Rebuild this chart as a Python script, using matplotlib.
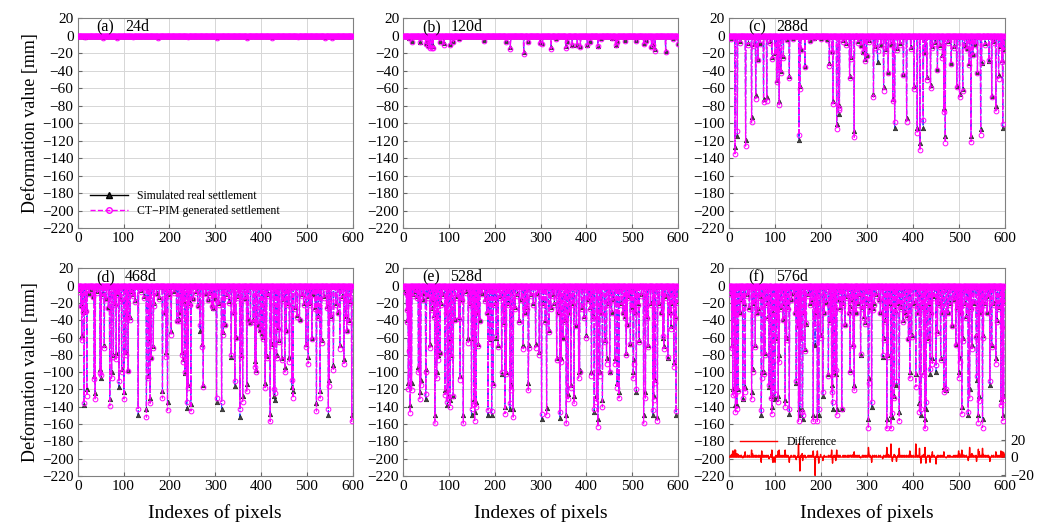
import numpy as np
import matplotlib
matplotlib.use("Agg")
import matplotlib.pyplot as plt
from matplotlib.lines import Line2D

plt.rcParams["font.family"] = ["Liberation Serif", "DejaVu Serif"]

N_PIXELS = 600
PANEL_TAGS = ["(a)", "(b)", "(c)", "(d)", "(e)", "(f)"]
DAYS = ["24d", "120d", "288d", "468d", "528d", "576d"]

# (pixel index, simulated real settlement, CT-PIM generated settlement); other pixels sit at 0
SPIKES_A = [(15, -1, -1), (55, -1, -2), (85, -1, -2), (120, -0.5, -1), (175, -1, -2),
            (240, -0.5, -1), (305, -1, -2), (370, -1, -2), (425, -1, -2), (480, -0.5, -1),
            (540, -1, -2), (555, -1, -2)]

SPIKES_B = [(13, -3, -3), (18, -6, -7), (36, -7, -7), (49, -8, -9), (52, -5, -6), (55, -11, -12),
            (58, -12, -14), (62, -12, -14), (65, -12, -14), (80, -6, -7), (89, -8, -10),
            (103, -9, -10), (109, -6, -7), (122, -3, -4), (176, -5, -6), (225, -6, -7),
            (234, -13, -15), (263, -18, -21), (273, -6, -7), (298, -7, -8), (304, -8, -9),
            (323, -13, -15), (333, -3, -4), (355, -12, -14), (357, -6, -7), (369, -10, -11),
            (380, -10, -11), (387, -12, -13), (402, -10, -11), (407, -6, -7), (425, -12, -12),
            (431, -3, -4), (455, -3, -3), (464, -10, -11), (467, -6, -7), (484, -5, -6),
            (509, -5, -6), (525, -8, -9), (531, -5, -6), (542, -12, -13), (545, -10, -11),
            (550, -15, -17), (573, -17, -19), (589, -3, -4), (599, -8, -9)]

SPIKES_C = [(5, -3, -4), (13, -127, -135), (18, -115, -109), (24, -6, -8), (36, -119, -126),
            (42, -8, -10), (49, -93, -99), (55, -9, -12), (58, -68, -72), (63, -26, -28),
            (68, -8, -9), (75, -72, -76), (82, -70, -74), (88, -6, -8), (93, -24, -26),
            (100, -20, -22), (104, -50, -53), (106, -35, -38), (109, -75, -79), (113, -40, -42),
            (118, -23, -25), (125, -4, -5), (131, -46, -48), (140, -3, -4), (152, -119, -113),
            (154, -57, -61), (156, -15, -16), (165, -35, -36), (175, -5, -6), (185, -2, -3),
            (200, -3, -4), (212, -4, -5), (218, -31, -34), (224, -17, -18), (226, -74, -78),
            (234, -101, -106), (238, -89, -85), (240, -79, -82), (248, -5, -7), (255, -8, -10),
            (262, -46, -48), (266, -24, -26), (272, -109, -116), (280, -6, -8), (287, -10, -12),
            (292, -19, -18), (295, -27, -29), (299, -22, -23), (305, -5, -7), (314, -66, -70),
            (318, -12, -14), (323, -30, -17), (330, -10, -11), (336, -58, -63), (341, -15, -17),
            (346, -41, -42), (351, -9, -11), (356, -72, -75), (360, -105, -99), (366, -14, -16),
            (372, -8, -10), (379, -44, -45), (386, -94, -99), (395, -13, -15), (402, -57, -61),
            (409, -105, -111), (415, -123, -131), (422, -105, -96), (426, -18, -20),
            (430, -47, -50), (438, -56, -60), (442, -12, -14), (447, -7, -9), (453, -38, -39),
            (458, -11, -13), (464, -22, -25), (467, -83, -87), (470, -115, -122), (476, -6, -8),
            (483, -31, -32), (490, -12, -14), (495, -57, -59), (501, -66, -70), (508, -61, -63),
            (512, -11, -12), (517, -14, -15), (522, -31, -33), (526, -115, -121), (530, -21, -22),
            (535, -9, -11), (540, -41, -42), (547, -106, -113), (549, -31, -30), (556, -8, -10),
            (565, -29, -28), (571, -69, -70), (575, -6, -8), (580, -80, -86), (586, -45, -49),
            (590, -12, -14), (593, -28, -30), (595, -105, -101), (598, -15, -16)]

SPIKES_D = [(3, -5, -7), (7, -22, -24), (9, -57, -63), (11, -30, -31), (14, -138, -136),
            (18, -28, -29), (20, -120, -127), (25, -8, -10), (30, -4, -5), (34, -12, -13),
            (36, -104, -108), (38, -124, -131), (43, -6, -8), (49, -96, -101), (51, -107, -103),
            (55, -10, -12), (58, -69, -72), (62, -14, -16), (67, -25, -26), (70, -131, -139),
            (74, -100, -107), (78, -80, -82), (81, -20, -22), (84, -78, -85), (87, -9, -11),
            (90, -117, -110), (93, -16, -18), (96, -96, -100), (101, -123, -131), (105, -77, -80),
            (108, -35, -39), (110, -98, -99), (114, -36, -40), (118, -6, -8), (121, -10, -12),
            (125, -17, -19), (132, -150, -142), (138, -5, -7), (144, -12, -14), (150, -143, -152),
            (154, -105, -107), (156, -60, -62), (158, -130, -136), (160, -82, -84), (165, -70, -72),
            (167, -20, -23), (172, -8, -10), (178, -13, -15), (185, -122, -130), (190, -30, -32),
            (193, -77, -82), (196, -134, -144), (200, -10, -12), (204, -53, -57), (210, -6, -8),
            (216, -40, -41), (220, -38, -41), (224, -30, -32), (227, -77, -80), (229, -85, -88),
            (232, -18, -20), (234, -101, -100), (238, -141, -134), (241, -115, -118),
            (244, -20, -22), (247, -137, -145), (252, -14, -16), (258, -6, -8), (262, -22, -24),
            (267, -53, -46), (272, -68, -71), (274, -115, -117), (280, -8, -10), (285, -15, -17),
            (289, -9, -11), (293, -22, -24), (296, -26, -26), (300, -14, -15), (303, -134, -130),
            (308, -20, -22), (314, -142, -134), (318, -54, -57), (321, -44, -46), (326, -10, -12),
            (330, -18, -20), (335, -82, -80), (340, -30, -32), (343, -116, -110), (345, -59, -61),
            (350, -12, -14), (354, -152, -142), (356, -80, -82), (360, -127, -134), (365, -14, -16),
            (369, -114, -122), (372, -39, -40), (377, -42, -43), (383, -40, -42), (387, -87, -94),
            (389, -97, -100), (393, -45, -46), (398, -51, -51), (402, -55, -57), (405, -59, -62),
            (409, -112, -118), (412, -81, -84), (416, -10, -12), (420, -148, -157), (423, -67, -70),
            (428, -127, -120), (430, -132, -124), (434, -80, -84), (437, -48, -50), (440, -63, -65),
            (445, -84, -86), (448, -16, -18), (452, -94, -100), (455, -51, -53), (459, -20, -22),
            (462, -83, -88), (467, -117, -109), (470, -122, -130), (475, -25, -27), (479, -34, -36),
            (484, -38, -40), (489, -10, -12), (493, -20, -22), (498, -68, -71), (503, -82, -90),
            (507, -20, -22), (511, -60, -62), (514, -10, -11), (518, -25, -27), (521, -136, -145),
            (525, -35, -37), (529, -122, -130), (532, -63, -66), (537, -12, -14), (543, -24, -26),
            (547, -150, -142), (549, -109, -116), (553, -35, -37), (558, -92, -98), (563, -20, -22),
            (567, -30, -32), (572, -69, -73), (576, -12, -14), (581, -85, -90), (585, -35, -37),
            (587, -51, -53), (591, -40, -42), (595, -18, -20), (598, -149, -157)]

SPIKES_E = [(2, -5, -6), (6, -7, -8), (7, -26, -28), (9, -40, -42), (11, -113, -119),
            (13, -72, -75), (15, -138, -147), (18, -113, -121), (22, -10, -12), (26, -6, -8),
            (30, -12, -14), (33, -94, -100), (36, -123, -131), (38, -109, -115), (42, -15, -17),
            (46, -8, -10), (49, -131, -125), (50, -96, -100), (54, -12, -14), (58, -68, -72),
            (62, -26, -28), (65, -15, -17), (67, -34, -36), (69, -150, -159), (73, -100, -107),
            (76, -80, -86), (80, -77, -78), (82, -20, -22), (86, -10, -12), (91, -121, -126),
            (94, -30, -32), (96, -138, -134), (98, -127, -131), (102, -132, -140), (103, -61, -63),
            (105, -80, -83), (109, -127, -127), (113, -38, -40), (118, -12, -14), (121, -36, -38),
            (124, -104, -109), (128, -15, -17), (131, -150, -159), (136, -6, -8), (142, -61, -66),
            (146, -20, -22), (149, -150, -142), (152, -60, -62), (154, -131, -137),
            (156, -146, -156), (159, -134, -140), (162, -30, -32), (164, -67, -70), (167, -40, -41),
            (172, -8, -10), (178, -16, -18), (182, -30, -32), (185, -150, -144), (189, -62, -65),
            (193, -150, -145), (196, -113, -115), (200, -20, -22), (203, -60, -58), (207, -69, -71),
            (211, -12, -14), (215, -102, -100), (219, -42, -44), (222, -140, -148),
            (225, -100, -102), (229, -20, -22), (233, -142, -136), (236, -115, -121),
            (240, -143, -152), (244, -25, -27), (249, -10, -12), (253, -40, -42), (258, -15, -17),
            (262, -69, -73), (266, -30, -32), (270, -25, -27), (273, -113, -121), (274, -69, -72),
            (279, -10, -12), (284, -20, -22), (289, -68, -72), (293, -8, -10), (297, -77, -80),
            (302, -154, -148), (306, -20, -22), (310, -40, -42), (313, -141, -150), (318, -51, -54),
            (322, -25, -27), (326, -10, -12), (330, -20, -22), (335, -84, -86), (339, -30, -32),
            (342, -153, -146), (345, -84, -88), (349, -61, -60), (353, -40, -42), (356, -150, -159),
            (360, -125, -131), (363, -30, -32), (366, -115, -118), (370, -20, -22),
            (373, -128, -136), (378, -45, -47), (383, -100, -107), (385, -98, -100), (390, -25, -27),
            (395, -35, -37), (400, -57, -60), (404, -15, -17), (408, -25, -27), (411, -100, -105),
            (414, -35, -37), (417, -146, -142), (422, -127, -134), (425, -154, -163),
            (429, -100, -104), (432, -30, -32), (435, -132, -140), (440, -63, -65), (444, -84, -90),
            (448, -20, -22), (451, -100, -100), (455, -30, -32), (458, -15, -17), (462, -84, -90),
            (467, -113, -118), (471, -123, -130), (476, -20, -22), (480, -30, -32), (484, -35, -37),
            (487, -78, -80), (489, -44, -46), (493, -12, -14), (496, -67, -68), (499, -25, -27),
            (502, -100, -107), (503, -86, -90), (506, -30, -32), (509, -123, -119), (512, -20, -22),
            (515, -63, -65), (520, -10, -12), (525, -150, -159), (529, -123, -130), (532, -35, -37),
            (535, -69, -71), (540, -20, -22), (545, -150, -144), (547, -127, -132),
            (550, -109, -112), (555, -152, -156), (559, -20, -22), (564, -30, -32), (567, -61, -58),
            (569, -70, -73), (573, -12, -14), (578, -84, -82), (582, -30, -32), (585, -47, -50),
            (588, -20, -22), (591, -88, -94), (594, -35, -37), (596, -149, -145), (599, -18, -20)]

SPIKES_F = [(3, -8, -10), (6, -69, -72), (8, -119, -126), (10, -30, -32), (12, -117, -125),
            (14, -138, -146), (17, -138, -142), (20, -119, -122), (24, -30, -32), (27, -15, -17),
            (30, -131, -130), (33, -20, -22), (35, -117, -123), (40, -10, -12), (44, -25, -27),
            (49, -123, -131), (51, -96, -100), (54, -20, -22), (57, -69, -71), (60, -30, -32),
            (64, -26, -28), (67, -12, -14), (70, -150, -144), (71, -100, -107), (75, -100, -102),
            (78, -78, -80), (82, -20, -22), (85, -35, -37), (87, -117, -115), (91, -127, -130),
            (93, -140, -148), (95, -32, -26), (96, -128, -122), (100, -131, -125), (102, -61, -63),
            (105, -40, -42), (107, -127, -134), (109, -80, -88), (113, -25, -27), (117, -38, -40),
            (120, -20, -22), (122, -132, -140), (125, -61, -63), (128, -25, -27), (131, -148, -142),
            (135, -15, -17), (140, -8, -10), (143, -30, -32), (146, -113, -110), (149, -46, -47),
            (151, -142, -157), (154, -150, -134), (156, -59, -61), (159, -142, -146),
            (160, -154, -150), (163, -30, -32), (165, -73, -75), (167, -44, -43), (172, -10, -12),
            (176, -20, -22), (180, -15, -17), (183, -150, -157), (187, -69, -48), (190, -30, -32),
            (192, -150, -157), (195, -150, -143), (199, -57, -60), (204, -127, -123),
            (207, -30, -32), (211, -19, -20), (216, -102, -104), (220, -40, -42), (223, -115, -123),
            (225, -142, -135), (228, -100, -102), (230, -25, -27), (232, -102, -98),
            (234, -142, -150), (238, -15, -17), (241, -25, -27), (245, -142, -142), (248, -20, -22),
            (252, -44, -46), (257, -12, -14), (260, -30, -32), (263, -98, -100), (264, -24, -26),
            (267, -15, -17), (270, -67, -70), (272, -115, -121), (276, -30, -32), (280, -20, -22),
            (283, -10, -12), (286, -80, -79), (290, -25, -27), (293, -35, -37), (296, -42, -44),
            (300, -20, -22), (303, -154, -165), (304, -107, -113), (307, -25, -27),
            (310, -140, -134), (312, -26, -28), (316, -20, -22), (320, -10, -12), (325, -15, -17),
            (329, -30, -32), (334, -82, -80), (336, -61, -63), (340, -40, -42), (343, -154, -165),
            (346, -80, -83), (349, -20, -22), (352, -150, -165), (355, -152, -147),
            (359, -127, -130), (361, -28, -30), (364, -115, -110), (367, -20, -22),
            (370, -146, -156), (374, -25, -27), (378, -40, -42), (382, -30, -32), (386, -34, -36),
            (390, -60, -62), (393, -100, -107), (397, -57, -59), (401, -20, -22), (406, -102, -117),
            (410, -30, -32), (414, -136, -146), (417, -150, -143), (420, -25, -27),
            (423, -100, -103), (426, -154, -165), (428, -142, -135), (432, -61, -63),
            (435, -20, -22), (437, -102, -96), (440, -30, -32), (442, -84, -90), (446, -12, -14),
            (450, -100, -92), (453, -53, -55), (456, -20, -22), (460, -84, -86), (463, -30, -32),
            (467, -117, -123), (472, -121, -120), (476, -30, -32), (480, -20, -22), (485, -46, -47),
            (489, -15, -17), (493, -67, -69), (496, -25, -27), (499, -100, -107), (501, -84, -88),
            (504, -30, -32), (506, -140, -148), (508, -61, -64), (512, -20, -22), (516, -35, -37),
            (520, -150, -146), (523, -119, -130), (525, -25, -27), (528, -69, -73), (532, -20, -22),
            (537, -57, -59), (538, -109, -104), (542, -150, -159), (544, -127, -133),
            (548, -30, -32), (551, -154, -164), (553, -57, -60), (557, -20, -22), (561, -30, -32),
            (564, -12, -14), (567, -115, -110), (571, -69, -71), (575, -20, -22), (580, -84, -90),
            (583, -40, -42), (587, -25, -27), (591, -131, -138), (593, -45, -48), (595, -150, -156),
            (597, -127, -132), (599, -18, -20)]

PANEL_SPIKES = [SPIKES_A, SPIKES_B, SPIKES_C, SPIKES_D, SPIKES_E, SPIKES_F]

REAL_COLOR = "#2b4cff"
GEN_COLOR = "#ff00ff"


def build_series(spikes):
  real = np.zeros(N_PIXELS)
  gen = np.zeros(N_PIXELS)
  for idx, r, g in spikes:
    real[idx] = r
    gen[idx] = g
  return real, gen


fig = plt.figure(figsize=(10.4, 5.22), dpi=100)
lefts = [0.0747, 0.3878, 0.7010]
widths = [0.2644, 0.2641, 0.2654]
rows = [(0.5626, 0.4023), (0.0881, 0.3979)]
x = np.arange(N_PIXELS)

for k, spikes in enumerate(PANEL_SPIKES):
  row, col = divmod(k, 3)
  ax = fig.add_axes([lefts[col], rows[row][0], widths[col], rows[row][1]])
  real, gen = build_series(spikes)
  ax.plot(x, real, color=REAL_COLOR, lw=0.8, ls="-.", marker="^", ms=3.2,
          mfc="#444444", mec="#222222", mew=0.5, zorder=2)
  ax.plot(x, gen, color=GEN_COLOR, lw=0.9, ls="--", marker="o", ms=3.4,
          mfc="none", mec=GEN_COLOR, mew=0.7, zorder=3)
  ax.set_xlim(0, 600)
  ax.set_ylim(-220, 20)
  ax.set_xticks(range(0, 601, 100))
  ax.set_yticks(range(-220, 21, 20))
  ax.tick_params(labelsize=11, direction="in", length=3, color="#666666", pad=3)
  ax.grid(True, color="#d6d6d6", lw=0.7)
  ax.set_axisbelow(True)
  for spine in ax.spines.values():
    spine.set_color("#808080")
  ax.text(41, 10, PANEL_TAGS[k], fontsize=11.5, ha="left", va="center", zorder=5)
  ax.text(103, 10, DAYS[k], fontsize=11.5, ha="left", va="center", zorder=5)
  if col == 0:
    ax.set_ylabel("Deformation value [mm]", fontsize=13, labelpad=2)
  if row == 1:
    ax.set_xlabel("Indexes of pixels", fontsize=14, labelpad=8)

  if k == 0:
    handles = [
        Line2D([], [], color="black", lw=1.0, marker="^", ms=4, mfc="#222222", mec="black"),
        Line2D([], [], color=GEN_COLOR, lw=1.0, ls="--", marker="o", ms=4, mfc="none",
               mec=GEN_COLOR),
    ]
    ax.legend(handles, ["Simulated real settlement", "CT\u2212PIM generated settlement"],
              loc="lower left", bbox_to_anchor=(0.02, 0.02), frameon=False, fontsize=8.5,
              handlelength=3.2, labelspacing=0.25, borderaxespad=0.2)

  if k == 5:
    # difference between the two settlement series, on its own small right-hand scale
    diff = real - gen
    ax2 = ax.twinx()
    (line,) = ax2.plot(x, diff, color="#ff0000", lw=1.0)
    ax2.set_ylim(-21.7, 216)
    ax2.set_yticks([-20, 0, 20])
    ax2.tick_params(labelsize=11, direction="in", length=3, color="#666666")
    for spine in ax2.spines.values():
      spine.set_visible(False)
    ax2.legend([line], ["Difference"], loc="center left", bbox_to_anchor=(0.0, 0.165),
               frameon=False, fontsize=8.5, handlelength=3.2)

fig.savefig("out.png", dpi=100)
